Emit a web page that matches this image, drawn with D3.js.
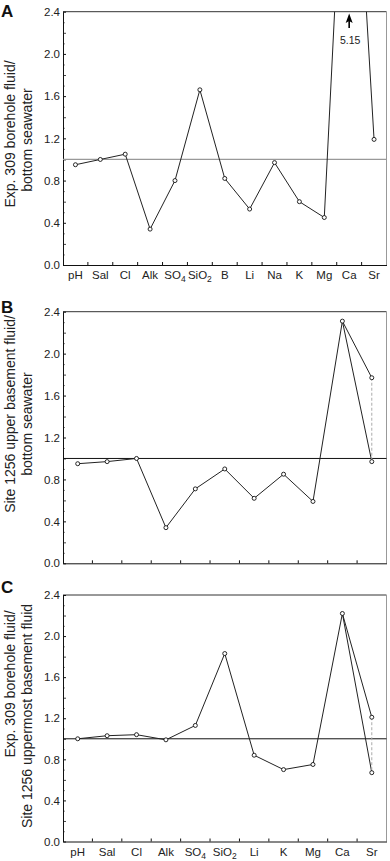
<!DOCTYPE html>
<html><head><meta charset="utf-8">
<script src="https://cdn.jsdelivr.net/npm/d3@7/dist/d3.min.js"></script>
<style>
html,body{margin:0;padding:0;background:#fff;}
svg{display:block;font-family:"Liberation Sans",Arial,Helvetica,sans-serif;}
</style></head>
<body>
<svg id="chart" width="390" height="861"></svg>
<script>
// ---- data ----
const categoriesA = ["pH","Sal","Cl","Alk","SO4","SiO2","B","Li","Na","K","Mg","Ca","Sr"];
const valuesA     = [0.95, 1.00, 1.05, 0.34, 0.80, 1.66, 0.82, 0.53, 0.97, 0.60, 0.45, 5.15, 1.19];
const categoriesB = ["pH","Sal","Cl","Alk","SO4","SiO2","Li","K","Mg","Ca","Sr"];
const valuesB     = [0.95, 0.97, 1.00, 0.34, 0.71, 0.90, 0.62, 0.85, 0.59, 2.31, 1.77];
const srSecondB   = 0.97;
const categoriesC = ["pH","Sal","Cl","Alk","SO4","SiO2","Li","K","Mg","Ca","Sr"];
const valuesC     = [1.00, 1.03, 1.04, 0.99, 1.13, 1.83, 0.84, 0.70, 0.75, 2.22, 1.21];
const srSecondC   = 0.67;
const yTickLabels = [0.0, 0.4, 0.8, 1.2, 1.6, 2.0, 2.4];
const refValue = 1.0;
const offScaleLabel = "5.15";

const svg = d3.select("#chart");

const panels = [
  {letter:"A", cats:categoriesA, vals:valuesA, second:null, top:11.7, bottom:265, labels:true,
   ylab:["Exp. 309 borehole fluid/","bottom seawater"], ylabY:[134, 140], refColor:"#999", arrow:true},
  {letter:"B", cats:categoriesB, vals:valuesB, second:srSecondB, top:311.7, bottom:563.3, labels:false,
   ylab:["Site 1256 upper basement fluid/","bottom seawater"], ylabY:[414, 424], refColor:"#111", arrow:false},
  {letter:"C", cats:categoriesC, vals:valuesC, second:srSecondC, top:595, bottom:841.5, labels:true,
   ylab:["Exp. 309 borehole fluid/","Site 1256 uppermost basement fluid"], ylabY:[684, 716], refColor:"#111", arrow:false}
];

const X0 = 63, X1 = 386.5;

panels.forEach((p, pi) => {
  const g = svg.append("g");
  const x = d3.scaleBand().domain(p.cats).range([X0, X1]).padding(0);
  const y = d3.scaleLinear().domain([0, 2.4]).range([p.bottom, p.top]);
  const cx = d => x(d) + x.bandwidth()/2;

  const clipId = "clip" + pi;
  svg.append("clipPath").attr("id", clipId).append("rect")
    .attr("x", X0).attr("y", p.top).attr("width", X1 - X0).attr("height", p.bottom - p.top);

  // frame top & right
  g.append("line").attr("x1", X0).attr("x2", X1).attr("y1", p.top).attr("y2", p.top)
    .attr("stroke", "#333").attr("stroke-width", 1);
  g.append("line").attr("x1", X1).attr("x2", X1).attr("y1", p.top).attr("y2", p.bottom)
    .attr("stroke", "#999").attr("stroke-width", 1);

  // minor y ticks
  const minor = d3.range(0, 25).map(i => i/10).filter(v => Math.round(v*10) % 2 === 1);
  const mid = d3.range(0, 13).map(i => i/5).filter(v => Math.round(v*5) % 2 === 1);
  g.append("g").attr("transform", `translate(${X0},0)`)
    .call(d3.axisLeft(y).tickValues(minor).tickSize(-2).tickFormat(""))
    .call(s => s.select(".domain").remove())
    .call(s => s.selectAll("line").attr("stroke", "#888"));
  g.append("g").attr("transform", `translate(${X0},0)`)
    .call(d3.axisLeft(y).tickValues(mid).tickSize(-3).tickFormat(""))
    .call(s => s.select(".domain").remove())
    .call(s => s.selectAll("line").attr("stroke", "#444"));
  g.append("g").attr("transform", `translate(${X0},0)`)
    .call(d3.axisLeft(y).tickValues(yTickLabels).tickSize(-3).tickSizeOuter(0).tickPadding(3).tickFormat(d3.format(".1f")))
    .call(s => s.select(".domain").attr("stroke", "#111"))
    .call(s => s.selectAll("line").attr("stroke", "#111"))
    .call(s => s.selectAll("text").attr("font-size", "11.5px").attr("fill", "#222")
      .attr("font-family", '"Liberation Sans",Arial,sans-serif'));

  // x axis
  const xa = g.append("g").attr("transform", `translate(0,${p.bottom})`)
    .call(d3.axisBottom(x).tickSize(0).tickSizeOuter(0).tickPadding(6)
      .tickFormat(p.labels ? (d => d) : ""))
    .call(s => s.select(".domain").attr("stroke", "#111"));
  xa.selectAll("text").attr("font-size", "11.5px").attr("fill", "#222")
    .attr("font-family", '"Liberation Sans",Arial,sans-serif')
    .each(function(d){
      if (!p.labels) return;
      const m = d.match(/^([A-Za-z]+)(\d)$/);
      if (m) {
        const t = d3.select(this); t.text(m[1]);
        t.append("tspan").attr("font-size", "8.5px").attr("dy", "3").text(m[2]);
      }
    });
  g.append("g").selectAll("line").data(p.cats.slice(1)).join("line")
    .attr("x1", d => x(d)).attr("x2", d => x(d))
    .attr("y1", p.bottom).attr("y2", p.bottom - 3)
    .attr("stroke", "#111");

  // reference line
  g.append("line").attr("x1", X0).attr("x2", X1).attr("y1", y(refValue)).attr("y2", y(refValue))
    .attr("stroke", p.refColor).attr("stroke-width", p.refColor === "#999" ? 1.3 : 1);

  const plot = g.append("g").attr("clip-path", `url(#${clipId})`);
  const line = d3.line().x(d => cx(d.c)).y(d => y(d.v));
  const pts = p.cats.map((c, i) => ({c, v: p.vals[i]}));
  plot.append("path").datum(pts).attr("d", line)
    .attr("fill", "none").attr("stroke", "#222").attr("stroke-width", 1);

  let allPts = pts.slice();
  if (p.second !== null) {
    const ca = pts[pts.length - 2];
    const sr2 = {c: p.cats[p.cats.length - 1], v: p.second};
    plot.append("path").datum([ca, sr2]).attr("d", line)
      .attr("fill", "none").attr("stroke", "#222").attr("stroke-width", 1);
    const sr1 = pts[pts.length - 1];
    plot.append("line").attr("x1", cx(sr1.c)).attr("x2", cx(sr2.c))
      .attr("y1", y(sr1.v)).attr("y2", y(sr2.v))
      .attr("stroke", "#aaa").attr("stroke-width", 1).attr("stroke-dasharray", "3,2");
    allPts.push(sr2);
  }
  plot.selectAll("circle").data(allPts.filter(d => d.v <= 2.4)).join("circle")
    .attr("cx", d => cx(d.c)).attr("cy", d => y(d.v)).attr("r", 2)
    .attr("fill", "#fff").attr("stroke", "#111").attr("stroke-width", 0.9);

  if (p.arrow) {
    const ax = cx("Ca");
    g.append("line").attr("x1", ax).attr("x2", ax).attr("y1", 20).attr("y2", 28)
      .attr("stroke", "#000").attr("stroke-width", 1.6);
    g.append("path").attr("d", `M${ax},13.5 L${ax-3.5},23 L${ax},21 L${ax+3.5},23 Z`).attr("fill", "#000");
    g.append("text").attr("x", ax + 1).attr("y", 43.5).attr("text-anchor", "middle")
      .attr("font-size", "10.5px").attr("fill", "#222").text(offScaleLabel);
  }

  // panel letter
  g.append("text").attr("x", 1).attr("y", p.top + (pi === 0 ? 5.5 : pi === 1 ? 1.5 : -2))
    .attr("font-size", "17px").attr("font-weight", "bold").attr("fill", "#111")
    .attr("font-family", '"Liberation Sans",Arial,sans-serif').text(p.letter);

  // y label
  p.ylab.forEach((t, li) => {
    g.append("text").attr("transform", `translate(${15 + li*17},${p.ylabY[li]}) rotate(-90)`)
      .attr("text-anchor", "middle").attr("font-size", "14px").attr("fill", "#222")
      .attr("font-family", '"Liberation Sans",Arial,sans-serif').text(t);
  });
});
</script>
</body></html>
